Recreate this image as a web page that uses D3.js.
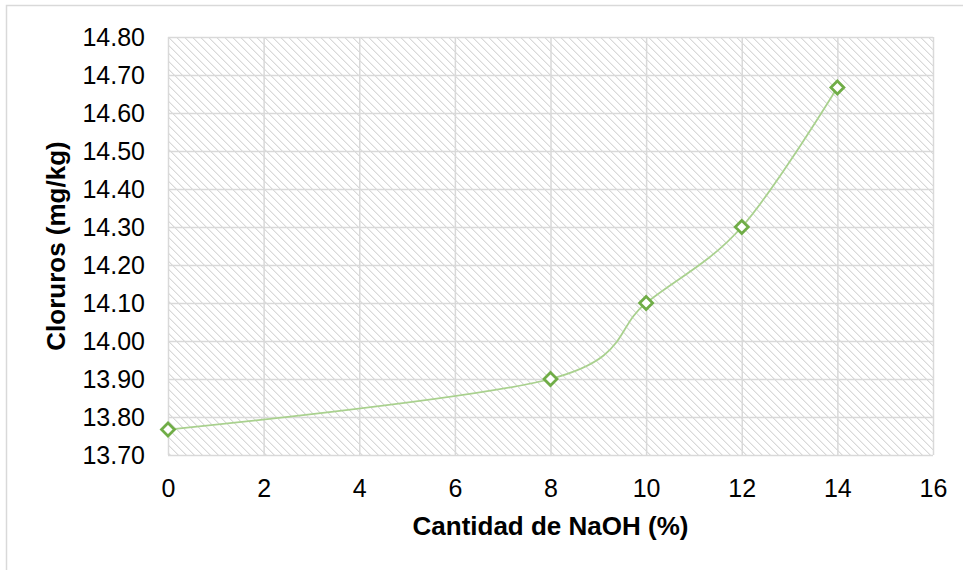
<!DOCTYPE html>
<html>
<head>
<meta charset="utf-8">
<script src="https://cdn.jsdelivr.net/npm/d3@7"></script>
<style>
  body { margin: 0; background: #fff; }
  text { font-family: "Liberation Sans", Arial, sans-serif; fill: #000; }
</style>
</head>
<body>
<div id="chart"></div>
<script>
// data
var naoh = [0, 8, 10, 12, 14];
var cloruros = [13.767, 13.90, 14.10, 14.30, 14.667];
var xTicks = [0, 2, 4, 6, 8, 10, 12, 14, 16];
var yTicks = [13.70, 13.80, 13.90, 14.00, 14.10, 14.20, 14.30, 14.40, 14.50, 14.60, 14.70, 14.80];

var svgWidth = 963;
var svgHeight = 570;

var margin = { top: 37, right: 30, bottom: 115, left: 168 };
var width = 933 - margin.left;
var height = 455 - margin.top;

var svg = d3.select("#chart")
  .append("svg")
  .attr("width", svgWidth)
  .attr("height", svgHeight);

// outer chart border (only top/left visible)
svg.append("rect")
  .attr("x", 6.5)
  .attr("y", 5.5)
  .attr("width", 980)
  .attr("height", 600)
  .attr("fill", "none")
  .attr("stroke", "#d9d9d9")
  .attr("stroke-width", 1.5);

// hatch pattern for plot area
var pat = svg.append("defs").append("pattern")
  .attr("id", "hatch")
  .attr("patternUnits", "userSpaceOnUse")
  .attr("width", 8)
  .attr("height", 8);
pat.append("rect").attr("width", 8).attr("height", 8).attr("fill", "#fff");
d3.range(8).forEach(function(i) {
  pat.append("rect").attr("x", i).attr("y", i).attr("width", 1).attr("height", 1).attr("fill", "#d9d9d9");
  pat.append("rect").attr("x", (i + 1) % 8).attr("y", i).attr("width", 1).attr("height", 1).attr("fill", "#eeeeee");
});

var chartGroup = svg.append("g")
  .attr("transform", `translate(${margin.left}, ${margin.top})`);

var xScale = d3.scaleLinear().domain([0, 16]).range([0, width]);
var yScale = d3.scaleLinear().domain([13.70, 14.80]).range([height, 0]);

chartGroup.append("rect")
  .attr("width", width)
  .attr("height", height)
  .attr("fill", "url(#hatch)");

// gridlines
chartGroup.append("g")
  .attr("transform", `translate(0, ${height})`)
  .call(d3.axisBottom(xScale).tickValues(xTicks).tickSize(-height).tickFormat(""))
  .call(g => g.select(".domain").remove())
  .call(g => g.selectAll("line").attr("stroke", "#d9d9d9").attr("stroke-width", 1.5));

chartGroup.append("g")
  .call(d3.axisLeft(yScale).tickValues(yTicks).tickSize(-width).tickFormat(""))
  .call(g => g.select(".domain").remove())
  .call(g => g.selectAll("line").attr("stroke", "#d9d9d9").attr("stroke-width", 1.5));

// tick labels
chartGroup.append("g")
  .attr("transform", `translate(0, ${height})`)
  .call(d3.axisBottom(xScale).tickValues(xTicks).tickSize(0).tickPadding(24))
  .call(g => g.select(".domain").remove())
  .call(g => g.selectAll("text").style("font-size", "25px").attr("font-family", null));

chartGroup.append("g")
  .call(d3.axisLeft(yScale).tickValues(yTicks).tickSize(0).tickPadding(23).tickFormat(d3.format(".2f")))
  .call(g => g.select(".domain").remove())
  .call(g => g.selectAll("text").style("font-size", "25px").attr("font-family", null));

// smoothed line (Excel-like uniform Catmull-Rom)
var line = d3.line()
  .x((d, i) => xScale(naoh[i]))
  .y(d => yScale(d))
  .curve(d3.curveCatmullRom.alpha(0));

chartGroup.append("path")
  .datum(cloruros)
  .attr("d", line)
  .attr("fill", "none")
  .attr("stroke", "#a9d18e")
  .attr("stroke-width", 1.75);

chartGroup.selectAll(".marker")
  .data(cloruros)
  .enter()
  .append("path")
  .attr("class", "marker")
  .attr("transform", (d, i) => `translate(${xScale(naoh[i])}, ${yScale(d)})`)
  .attr("d", "M0,-6.5L6.5,0L0,6.5L-6.5,0Z")
  .attr("fill", "#fff")
  .attr("stroke", "#70ad47")
  .attr("stroke-width", 2.75);

// axis titles
chartGroup.append("text")
  .attr("x", width / 2)
  .attr("y", 535 - margin.top)
  .attr("text-anchor", "middle")
  .style("font-size", "26px")
  .style("font-weight", "bold")
  .text("Cantidad de NaOH (%)");

chartGroup.append("text")
  .attr("transform", `translate(${65 - margin.left}, ${height / 2}) rotate(-90)`)
  .attr("text-anchor", "middle")
  .style("font-size", "26px")
  .style("font-weight", "bold")
  .text("Cloruros (mg/kg)");
</script>
</body>
</html>
